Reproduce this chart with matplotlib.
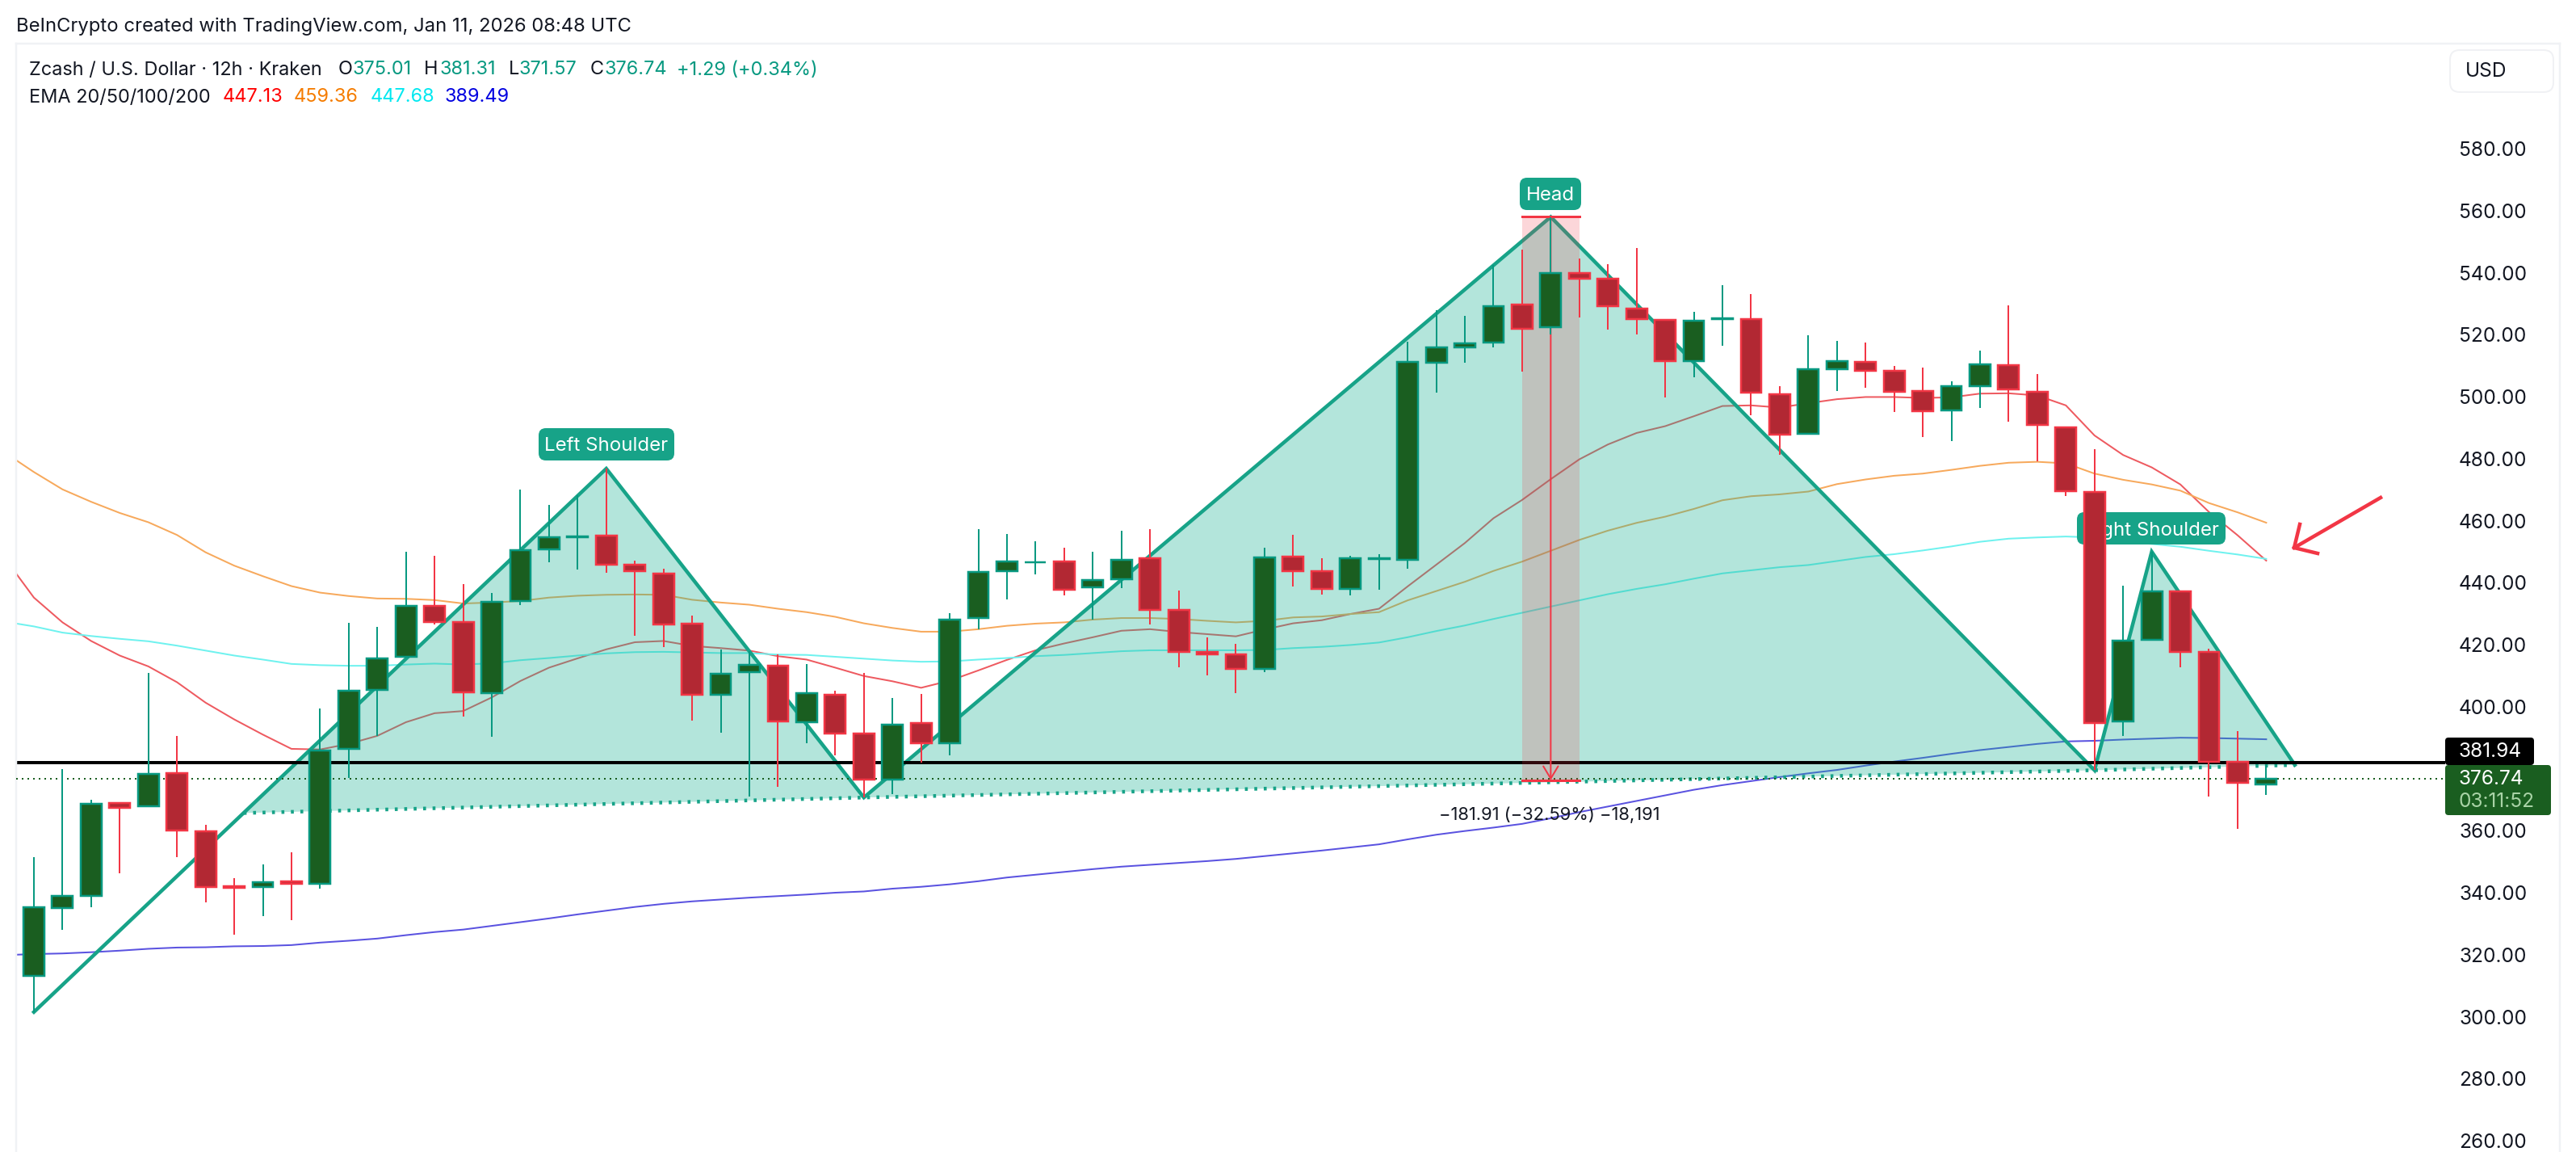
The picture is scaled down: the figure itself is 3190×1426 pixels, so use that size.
import matplotlib
matplotlib.use("Agg")
import matplotlib.pyplot as plt
from matplotlib.patches import FancyBboxPatch, Polygon
from matplotlib.transforms import Affine2D

W, H = 3190, 1426

# candles
body_top = [335.4, 339.0, 368.6, 368.9, 378.3, 378.6, 359.9, 342.0, 343.5, 343.7,
            386.0, 405.2, 415.6, 432.6, 432.6, 427.4, 433.8, 450.6, 454.6, 455.0,
            455.1, 445.7, 443.0, 426.9, 410.6, 413.5, 413.2, 404.3, 403.8, 391.3,
            394.3, 394.7, 428.2, 443.5, 446.9, 446.7, 446.9, 440.9, 447.4, 447.8,
            431.3, 417.6, 417.0, 448.2, 448.3, 443.8, 447.9, 447.9, 511.1, 515.8,
            517.3, 529.3, 529.6, 540.0, 540.0, 538.1, 528.5, 524.8, 524.6, 525.4,
            525.1, 500.9, 509.0, 511.6, 511.3, 508.4, 501.9, 503.5, 510.5, 510.2,
            501.6, 490.2, 469.3, 421.4, 437.1, 437.1, 417.7, 382.3, 376.74]
body_bot = [313.1, 335.0, 339.0, 367.3, 367.8, 360.0, 341.8, 341.5, 341.8, 342.8,
            342.9, 386.5, 405.5, 416.1, 427.2, 404.6, 404.3, 434.1, 450.7, 454.7,
            445.8, 443.7, 426.4, 403.9, 403.8, 411.1, 395.3, 395.1, 391.3, 376.5,
            376.5, 388.2, 388.3, 428.7, 443.6, 446.5, 437.8, 438.4, 441.0, 431.1,
            417.6, 417.0, 412.1, 412.1, 443.8, 438.1, 438.1, 447.7, 447.5, 511.0,
            516.0, 517.4, 522.0, 522.3, 538.1, 529.3, 525.1, 511.4, 511.6, 525.0,
            501.3, 487.7, 488.0, 508.9, 508.3, 501.5, 495.3, 495.6, 503.4, 502.3,
            490.9, 469.4, 394.7, 395.3, 421.5, 417.6, 382.2, 375.4, 375.01]
wick_hi = [351.6, 379.9, 370.0, 369.3, 410.8, 390.5, 362.0, 344.7, 349.0, 353.0,
           399.4, 427.0, 425.7, 449.9, 448.7, 439.5, 436.7, 470.0, 465.0, 468.1,
           476.8, 447.0, 444.5, 429.4, 418.5, 417.9, 417.0, 413.8, 405.2, 410.8,
           402.7, 404.2, 430.3, 457.3, 455.7, 453.3, 451.3, 450.0, 456.8, 457.3,
           437.6, 422.4, 420.2, 451.3, 455.5, 447.8, 448.8, 449.1, 517.8, 527.9,
           526.0, 542.4, 547.4, 558.0, 544.6, 542.8, 547.9, 525.0, 527.4, 535.9,
           533.1, 503.3, 519.8, 518.0, 517.5, 509.8, 509.4, 505.0, 515.0, 529.4,
           507.2, 490.2, 483.1, 439.0, 450.0, 437.2, 418.6, 392.2, 381.31]
wick_lo = [301.5, 328.1, 335.2, 346.3, 367.7, 351.4, 336.8, 326.5, 332.5, 331.2,
           341.2, 376.9, 390.5, 416.0, 426.5, 396.9, 390.3, 432.8, 446.5, 444.2,
           443.1, 422.9, 419.2, 395.5, 391.5, 371.0, 374.2, 388.2, 384.4, 370.7,
           371.8, 381.9, 384.3, 425.0, 434.6, 442.8, 436.0, 428.0, 438.2, 426.6,
           412.7, 410.1, 404.3, 411.1, 438.8, 436.2, 436.0, 437.8, 444.5, 501.3,
           511.0, 515.9, 508.1, 520.0, 525.6, 521.7, 520.2, 499.8, 506.3, 516.4,
           494.0, 481.2, 487.9, 501.8, 502.9, 495.0, 487.0, 485.8, 496.4, 492.0,
           479.2, 467.9, 379.5, 390.5, 421.4, 412.7, 371.0, 360.6, 371.57]
is_up = [1, 1, 1, 0, 1, 0, 0, 0, 1, 0, 1, 1, 1, 1, 0, 0, 1, 1, 1, 1,
         0, 0, 0, 0, 1, 1, 0, 1, 0, 0, 1, 0, 1, 1, 1, 1, 0, 1, 1, 0,
         0, 0, 0, 1, 0, 0, 1, 1, 1, 1, 1, 1, 0, 1, 0, 0, 0, 0, 1, 1,
         0, 0, 1, 1, 0, 0, 0, 1, 1, 0, 0, 0, 0, 1, 1, 0, 0, 0, 1]

ema_x = [-0.6] + list(range(79))
ema20 = [442.7, 435.2, 427.2, 421.2, 416.5, 413.0, 407.9, 401.3, 395.9, 391.0,
         386.4, 386.2, 388.0, 390.6, 395.0, 397.9, 398.6, 403.0, 408.3, 412.6,
         415.6, 418.5, 420.8, 421.2, 419.6, 418.9, 418.1, 416.3, 415.2, 412.6,
         409.9, 408.2, 406.1, 408.4, 411.7, 415.1, 418.2, 420.4, 422.4, 424.5, 425.0,
         424.1, 423.4, 422.7, 424.9, 426.9, 427.9, 429.9, 431.6, 438.8, 445.8,
         452.8, 460.8, 466.7, 473.4, 479.8, 484.6, 488.3, 490.5, 493.7, 497.0,
         497.2, 496.5, 497.9, 499.2, 499.9, 499.9, 499.6, 499.8, 501.0, 501.1,
         500.4, 497.2, 487.5, 481.2, 477.2, 471.7, 462.8, 455.3, 447.13]
ema50 = [479.4, 475.7, 470.1, 466.1, 462.5, 459.5, 455.4, 449.8, 445.5, 442.1,
         438.9, 436.8, 435.7, 434.9, 434.8, 434.4, 433.3, 433.6, 434.1, 435.2,
         435.8, 436.1, 436.2, 436.1, 434.5, 433.6, 432.9, 431.6, 430.5, 429.0,
         426.9, 425.4, 424.2, 424.2, 425.0, 426.1, 426.8, 427.2, 428.1, 428.6, 428.6,
         428.3, 427.7, 427.2, 427.7, 428.8, 429.1, 429.9, 430.5, 434.3, 437.3,
         440.3, 443.8, 446.8, 450.3, 453.8, 456.8, 459.3, 461.3, 463.8, 466.6,
         467.9, 468.5, 469.4, 471.8, 473.3, 474.5, 475.2, 476.4, 477.7, 478.7,
         479.0, 478.5, 475.2, 473.2, 471.7, 469.7, 465.7, 462.7, 459.36]
ema100 = [426.8, 425.9, 423.9, 422.8, 421.9, 421.1, 419.7, 418.1, 416.5, 415.2,
          413.8, 413.4, 413.2, 413.2, 413.6, 413.9, 413.6, 414.0, 415.0, 415.7,
          416.5, 417.2, 417.6, 417.7, 417.5, 417.3, 417.3, 416.8, 416.7, 416.1,
          415.5, 414.9, 414.5, 414.6, 415.2, 415.7, 416.3, 416.7, 417.3, 417.9, 418.2,
          418.2, 418.2, 418.2, 418.3, 418.9, 419.3, 419.9, 420.7, 422.4, 424.4,
          426.2, 428.3, 430.3, 432.3, 434.3, 436.3, 438.0, 439.5, 441.3, 443.0,
          444.0, 445.0, 445.7, 447.0, 448.3, 449.2, 450.4, 451.7, 453.2, 454.2,
          454.6, 454.9, 454.6, 453.3, 452.5, 451.6, 450.3, 449.1, 447.68]
ema200 = [320.0, 320.2, 320.4, 320.8, 321.3, 321.9, 322.3, 322.4, 322.7, 322.8,
          323.1, 323.9, 324.5, 325.2, 326.3, 327.3, 328.1, 329.3, 330.5, 331.7,
          333.0, 334.2, 335.4, 336.4, 337.2, 337.8, 338.4, 338.9, 339.4, 340.0,
          340.4, 341.3, 341.9, 342.7, 343.7, 344.9, 345.8, 346.7, 347.6, 348.4, 349.0,
          349.6, 350.2, 350.9, 351.8, 352.7, 353.6, 354.6, 355.6, 357.2, 358.7,
          359.9, 361.0, 362.2, 364.0, 366.0, 367.8, 369.6, 371.4, 373.2, 374.7,
          376.0, 377.3, 378.5, 379.6, 381.0, 382.3, 383.5, 384.8, 386.0, 387.0,
          388.0, 388.8, 389.0, 389.4, 389.7, 390.0, 389.9, 389.7, 389.49]

# head and shoulders pattern
pattern_x = [0, 20, 29, 53, 72, 74, 79]
pattern_y = [301.5, 476.8, 370.7, 558.0, 379.5, 450.0, 381.2]
neck_x = [7.33, 29, 72, 79]
neck_y = [365.7, 370.7, 379.5, 381.2]

level_price = 381.94
last_price = 376.74
measure_x = [52, 54]
measure_top, measure_bottom = 558.1, 376.3
y_ticks = [260, 280, 300, 320, 340, 360, 400, 420, 440, 460, 480, 500, 520, 540, 560, 580]

GREEN_BODY = "#1a5e20"
TEAL = "#089981"
RED = "#f23645"
RED_BODY = "#b22833"
PATTERN = "#17a388"
PATTERN_FILL = "#19b092"
BORDER = "#f0f2f5"
INK = "#131722"

plt.rcParams["font.family"] = ["Inter", "DejaVu Sans"]

fig = plt.figure(figsize=(W / 100, H / 100), dpi=100, facecolor="white")
ax = fig.add_axes([20 / W, 0, 3150 / W, (H - 54) / H])

# pixel coordinates (from top left) for the screenshot furniture
px = Affine2D().scale(1, -1).translate(0, H)


def pt(pixels):
    return pixels * 0.72


def label(x, y, s, size, color=INK, ha="left", z=10, **kw):
    ax.text(x, y + 2.5, s, transform=px, fontsize=pt(size), color=color, ha=ha, va="center",
            zorder=z, clip_on=False, **kw)


def box(x0, y0, x1, y1, face, edge="none", radius=6, z=9, lw=0):
    ax.add_patch(FancyBboxPatch((x0 + radius, y0 + radius), x1 - x0 - 2 * radius, y1 - y0 - 2 * radius,
                                boxstyle=f"round,pad={radius},rounding_size={radius}",
                                transform=px, facecolor=face, edgecolor=edge, lw=lw,
                                zorder=z, clip_on=False))


ax.set_xlim(-0.62, 88.26)
ax.set_ylim(256.35, 613.9)

# EMAs sit under the pattern fill
ax.plot(ema_x, ema20, color="#ee5a60", lw=pt(2), zorder=1)
ax.plot(ema_x, ema50, color="#f7a95c", lw=pt(2), zorder=1)
ax.plot(ema_x, ema100, color="#6ff2ef", lw=pt(2), zorder=1)
ax.plot(ema_x, ema200, color="#5a52e0", lw=pt(2), zorder=1)

# pattern fill, three triangles
tri1 = [(neck_x[0], neck_y[0]), (pattern_x[1], pattern_y[1]), (pattern_x[2], pattern_y[2])]
tri2 = [(pattern_x[2], pattern_y[2]), (pattern_x[3], pattern_y[3]), (pattern_x[4], pattern_y[4])]
tri3 = [(pattern_x[4], pattern_y[4]), (pattern_x[5], pattern_y[5]), (pattern_x[6], pattern_y[6])]
for tri in (tri1, tri2, tri3):
    ax.add_patch(Polygon(tri, closed=True, facecolor=PATTERN_FILL, alpha=0.33, edgecolor="none", zorder=2))
ax.plot(pattern_x, pattern_y, color=PATTERN, lw=pt(4.5), zorder=2.2, solid_joinstyle="miter")
ax.plot(neck_x, neck_y, color=PATTERN, lw=pt(4.5), ls=(0, (0.8, 1.8)), zorder=2.3)

# price lines
ax.plot([-0.62, (3026 - 42) / 35.44], [level_price, level_price], color="black", lw=pt(4), zorder=2.5)
ax.plot([-0.62, (3026 - 42) / 35.44], [last_price, last_price], color=GREEN_BODY, lw=pt(2),
        ls=(0, (1, 2.5)), zorder=2.6)

# measure tool
ax.fill_between(measure_x, measure_bottom, measure_top, color=RED, alpha=0.2, lw=0, zorder=2.7)
ax.plot(measure_x, [measure_top, measure_top], color=RED, lw=pt(3), zorder=2.75)
ax.plot(measure_x, [measure_bottom, measure_bottom], color=RED, lw=pt(3), zorder=2.75)
ax.annotate("", xy=(53, measure_bottom), xytext=(53, measure_top), zorder=2.75,
            arrowprops=dict(arrowstyle="->,head_length=0.5,head_width=0.3", color=RED,
                            lw=pt(2), mutation_scale=22, shrinkA=0, shrinkB=0))
label(1919, 1006, "−181.91 (−32.59%) −18,191", 22, ha="center")

# Right Shoulder label goes behind the candles
box(2572, 634, 2756, 674, PATTERN, radius=9, z=2.9)
label(2664, 654, "Right Shoulder", 24, color="white", ha="center", z=2.95)

# candles
xs = list(range(len(body_top)))
wick_colors = [TEAL if u else RED for u in is_up]
body_colors = [GREEN_BODY if u else RED_BODY for u in is_up]
heights = [t - b for t, b in zip(body_top, body_bot)]
ax.vlines(xs, wick_lo, wick_hi, colors=wick_colors, lw=pt(2), zorder=3)
ax.bar(xs, heights, bottom=body_bot, width=0.73, color=body_colors, edgecolor=wick_colors,
       linewidth=pt(2.5), zorder=3.5)

# pattern labels
box(667, 530, 835, 570, PATTERN, radius=9)
label(751, 550, "Left Shoulder", 24, color="white", ha="center")
box(1882, 220, 1958, 260, PATTERN, radius=9)
label(1920, 240, "Head", 24, color="white", ha="center")

# hand drawn arrow
ax.plot([2948, 2841], [616, 678], transform=px, color=RED, lw=pt(4.5), zorder=8, clip_on=False)
ax.plot([2848, 2841, 2870], [649, 678, 685], transform=px, color=RED, lw=pt(4.5), zorder=8,
        clip_on=False, solid_joinstyle="miter")

# frame and price scale
for side in ("bottom",):
    ax.spines[side].set_visible(False)
for side in ("left", "top", "right"):
    ax.spines[side].set_color(BORDER)
    ax.spines[side].set_linewidth(pt(2.5))
ax.set_xticks([])
ax.yaxis.tick_right()
ax.set_yticks(y_ticks)
ax.set_yticklabels([f"{v:.2f}" for v in y_ticks])
ax.tick_params(axis="y", length=0, pad=pt(-125), labelsize=pt(24.5), labelcolor=INK)

# price tags
box(3028, 913, 3138, 947, "black", radius=4)
label(3045, 928, "381.94", 24.5, color="white")
box(3028, 947, 3159, 1009, GREEN_BODY, radius=4, z=9.5)
label(3045, 962, "376.74", 24.5, color="white", z=10)
label(3045, 990, "03:11:52", 24.5, color="#a9d3a6", z=10)
box(3034, 62, 3162, 114, "white", edge="#f0f1f4", radius=12, lw=pt(2))
label(3053, 86, "USD", 24.5)

# header
label(20, 30, "BeInCrypto created with TradingView.com, Jan 11, 2026 08:48 UTC", 23.8)
label(36, 84, "Zcash / U.S. Dollar · 12h · Kraken", 23.5)
ohlc_labels = [("O", 419, "375.01", 436), ("H", 525, "381.31", 544),
               ("L", 630, "371.57", 643), ("C", 731, "376.74", 749)]
for name, x_name, value, x_value in ohlc_labels:
    label(x_name, 84, name, 23.5)
    label(x_value, 84, value, 23.5, color=TEAL)
label(838, 84, "+1.29 (+0.34%)", 23.5, color=TEAL)
label(36, 118, "EMA 20/50/100/200", 23.5)
label(276, 118, "447.13", 23.5, color="#ff0000")
label(364, 118, "459.36", 23.5, color="#f57c00")
label(459, 118, "447.68", 23.5, color="#00e8f0")
label(551, 118, "389.49", 23.5, color="#0000e0")

fig.savefig("out.png", dpi=100)
